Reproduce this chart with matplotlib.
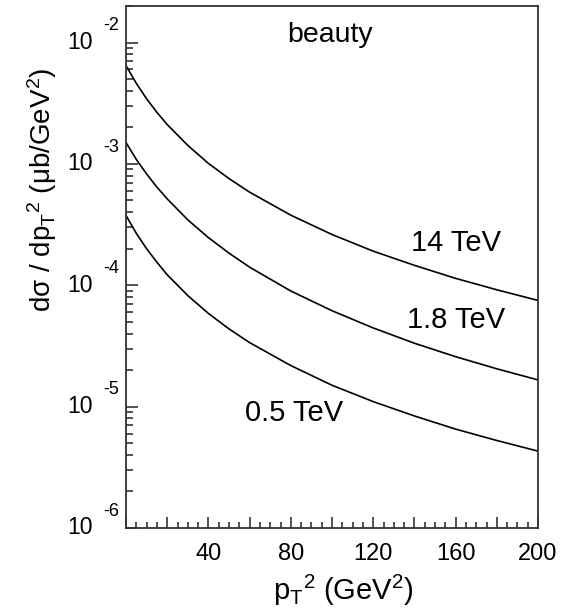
import matplotlib
matplotlib.use("Agg")
import matplotlib.pyplot as plt
import matplotlib.transforms as mtransforms
from matplotlib.ticker import MultipleLocator, LogLocator, NullFormatter, FuncFormatter

plt.rcParams['font.family'] = ['Liberation Sans', 'DejaVu Sans']
plt.rcParams['mathtext.fontset'] = 'custom'
plt.rcParams['mathtext.rm'] = 'Liberation Sans'
plt.rcParams['mathtext.it'] = 'Liberation Sans'

# pT^2 in GeV^2
pt2 = [0, 5, 10, 15, 20, 30, 40, 50, 60, 80, 100, 120, 140, 160, 180, 200]

# d sigma / d pT^2 in mub/GeV^2
sig_14 = [6.46e-3, 4.61e-3, 3.44e-3, 2.66e-3, 2.11e-3, 1.42e-3, 1.01e-3, 7.57e-4,
          5.85e-4, 3.78e-4, 2.62e-4, 1.91e-4, 1.46e-4, 1.14e-4, 9.18e-5, 7.50e-5]
sig_18 = [1.50e-3, 1.09e-3, 8.26e-4, 6.44e-4, 5.15e-4, 3.46e-4, 2.47e-4, 1.84e-4,
          1.41e-4, 8.97e-5, 6.17e-5, 4.45e-5, 3.33e-5, 2.58e-5, 2.05e-5, 1.66e-5]
sig_05 = [3.76e-4, 2.68e-4, 2.00e-4, 1.55e-4, 1.22e-4, 8.22e-5, 5.86e-5, 4.37e-5,
          3.37e-5, 2.18e-5, 1.50e-5, 1.10e-5, 8.38e-6, 6.53e-6, 5.26e-6, 4.30e-6]

decades = [-6, -5, -4, -3, -2]

fig = plt.figure(figsize=(5.7, 6.12), dpi=100)
ax = fig.add_axes([126/570, 84/612, 412/570, 522/612])

for s in (sig_14, sig_18, sig_05):
    ax.plot(pt2, s, color='black', lw=1.2)

ax.set_yscale('log')
ax.set_xlim(0, 200)
ax.set_ylim(1e-6, 2e-2)

for sp in ax.spines.values():
    sp.set_linewidth(1.3)
    sp.set_color('#333333')

# ticks
ax.xaxis.set_major_locator(MultipleLocator(20))
ax.xaxis.set_minor_locator(MultipleLocator(5))
ax.xaxis.set_major_formatter(FuncFormatter(lambda v, p: '%d' % v if v > 0 and int(v) % 40 == 0 else ''))
ax.yaxis.set_major_locator(LogLocator(base=10, numticks=10))
ax.yaxis.set_minor_locator(LogLocator(base=10, subs=range(2, 10), numticks=20))
ax.yaxis.set_major_formatter(NullFormatter())
ax.yaxis.set_minor_formatter(NullFormatter())
ax.tick_params(which='both', direction='in', top=False, right=False, width=1.1, color='#222222')
ax.tick_params(axis='x', which='major', length=8, labelsize=17, pad=11)
ax.tick_params(axis='x', which='minor', length=4.5)
ax.tick_params(axis='y', which='major', length=8.5)
ax.tick_params(axis='y', which='minor', length=5)

# ROOT style "10^n" labels
ytr = ax.get_yaxis_transform()
exp_tr = mtransforms.offset_copy(ytr, fig=fig, x=0, y=12, units='points')
for d in decades:
    ax.text(-0.080, 10.0**d, '10', transform=ytr, ha='right', va='center', fontsize=16.5)
    ax.text(-0.055, 10.0**d, '%d' % d, transform=exp_tr, ha='left', va='center', fontsize=13)

fig.text(343/570, 1 - 590/612, r'p$_{\mathrm{T}}$$^{2}$ (GeV$^{2}$)',
         ha='center', va='center', fontsize=21)
fig.text(42/570, 1 - 190/612, r'd$\sigma$ / dp$_{\mathrm{T}}$$^{2}$ ($\mu$b/GeV$^{2}$)',
         rotation=90, ha='center', va='center', fontsize=20)

ax.text(99, 10**(-1.94), 'beauty', ha='center', va='center', fontsize=20.5)
ax.text(160, 10**(-3.652), '14 TeV', ha='center', va='center', fontsize=21)
ax.text(160, 10**(-4.286), '1.8 TeV', ha='center', va='center', fontsize=21)
ax.text(81.5, 10**(-5.052), '0.5 TeV', ha='center', va='center', fontsize=21)

fig.savefig('out.png', dpi=100)
